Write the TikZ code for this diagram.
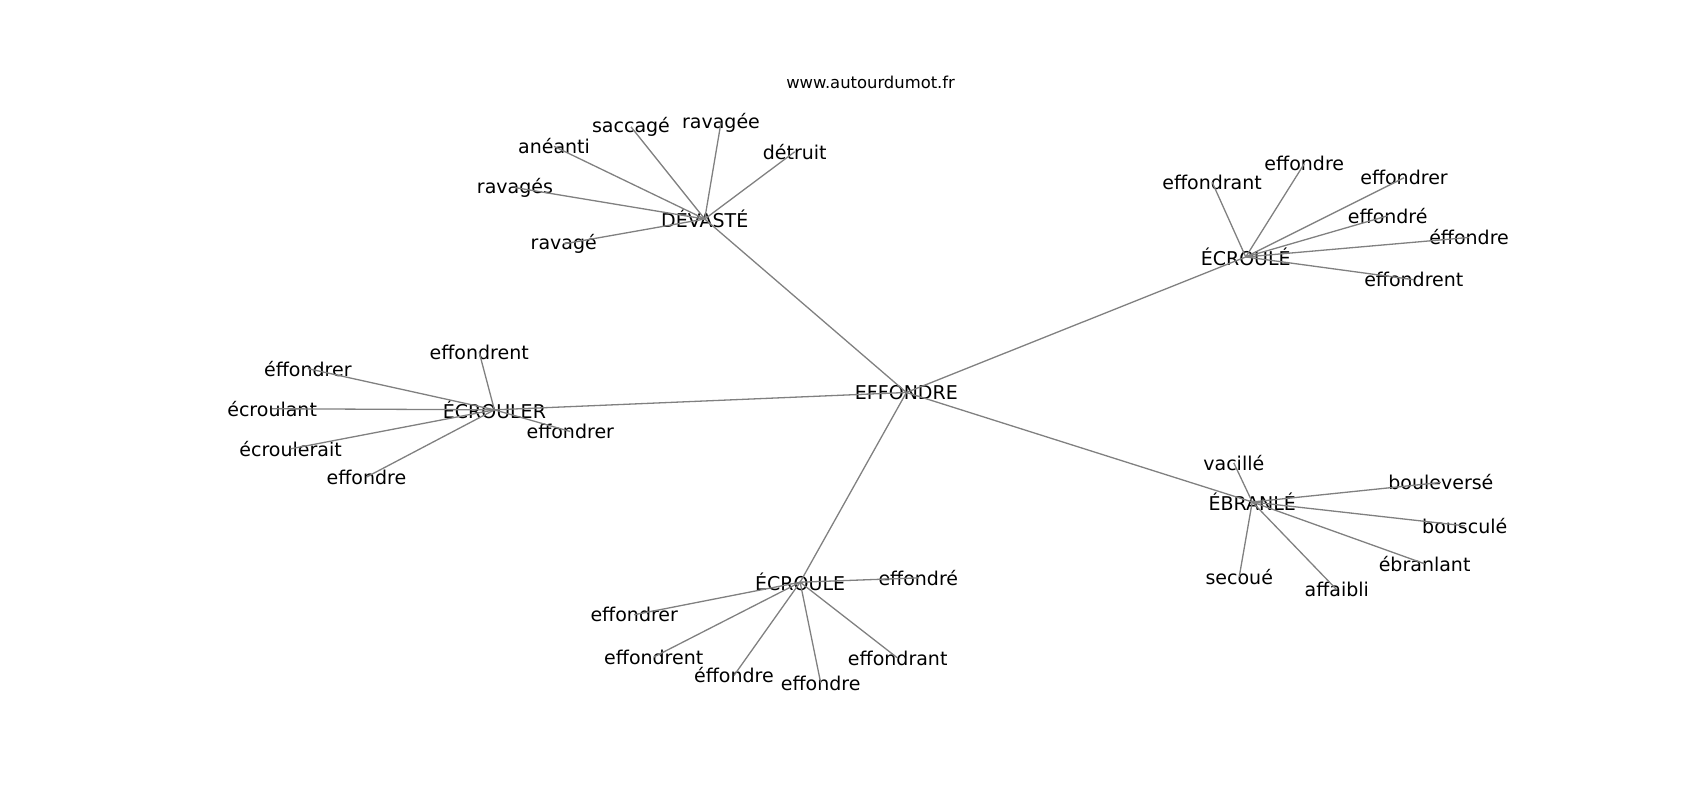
\documentclass[tikz,border=0pt]{standalone}
\usepackage{fontspec}
\setmainfont{DejaVu Sans}
\usetikzlibrary{positioning}

\begin{document}
\begin{tikzpicture}[x=1.0842pt, y=-1.0842pt,
    w/.style ={
        font=\fontsize{19}{22}\selectfont,
        inner sep=0pt
    },
    lnk/.style ={
        draw=gray,
        line width=1.3pt
    }
    ]
    \useasboundingbox (0,0) rectangle (1568,738);
    \node[font=\fontsize{16.4}{19}\selectfont] (site) at (803,76) {www.autourdumot.fr};

    % words
    \foreach \x/ \pos/ \txt in {{E/(836,362)/EFFONDRE}, {DV/(650,202)/DÉVASTÉ}, {CE/(1149,237)/ÉCROULÉ},
                                {CR/(456,378)/ÉCROULER}, {EB/(1155,463)/ÉBRANLÉ}, {CL/(738,537)/ÉCROULE},
                                {dv1/(511,135)/anéanti}, {dv2/(582,117)/saccagé}, {dv3/(665,113)/ravagée},
                                {dv4/(733,140)/détruit}, {dv5/(475,173)/ravagés}, {dv6/(520,225)/ravagé},
                                {ce1/(1118,168)/effondrant}, {ce2/(1203,151)/effondre}, {ce3/(1295,164)/effondrer},
                                {ce4/(1280,199)/effondré}, {ce5/(1355,219)/éffondre}, {ce6/(1304,258)/effondrent},
                                {cr1/(442,325)/effondrent}, {cr2/(284,340)/éffondrer}, {cr3/(251,377)/écroulant},
                                {cr4/(268,414)/écroulerait}, {cr5/(338,440)/effondre}, {cr6/(526,398)/effondrer},
                                {eb1/(1138,427)/vacillé}, {eb2/(1329,445)/bouleversé}, {eb3/(1351,485)/bousculé},
                                {eb4/(1314,520)/ébranlant}, {eb5/(1233,544)/affaibli}, {eb6/(1143,532)/secoué},
                                {cl1/(847,533)/effondré}, {cl2/(585,567)/effondrer}, {cl3/(603,606)/effondrent},
                                {cl4/(677,623)/éffondre}, {cl5/(757,630)/effondre}, {cl6/(828,607)/effondrant}}
        \node[w] (\x) at \pos {\txt};

    \foreach \src/ \dst in {E/DV, E/CE, E/CR, E/EB, E/CL,
                            DV/dv1, DV/dv2, DV/dv3, DV/dv4, DV/dv5, DV/dv6,
                            CE/ce1, CE/ce2, CE/ce3, CE/ce4, CE/ce5, CE/ce6,
                            CR/cr1, CR/cr2, CR/cr3, CR/cr4, CR/cr5, CR/cr6,
                            EB/eb1, EB/eb2, EB/eb3, EB/eb4, EB/eb5, EB/eb6,
                            CL/cl1, CL/cl2, CL/cl3, CL/cl4, CL/cl5, CL/cl6}
        \draw[lnk] (\src.center) -- (\dst.center);
\end{tikzpicture}
\end{document}
